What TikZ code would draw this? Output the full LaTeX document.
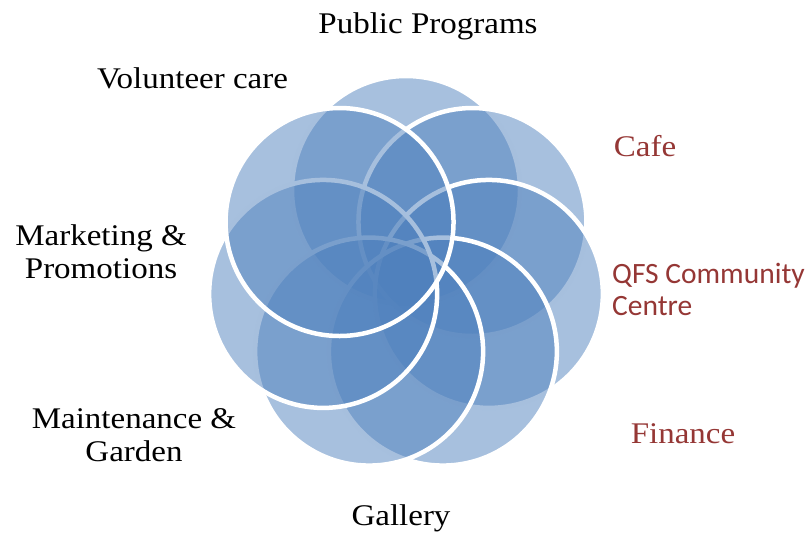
\documentclass[tikz,border=0pt]{standalone}
\usepackage{fontspec}
\setmainfont[FakeStretch=1.1]{Liberation Serif}
\newfontfamily\labelsans{Carlito}
\begin{document}
\begin{tikzpicture}[x=1pt,y=-1pt,
  ring/.style={fill=ringblue, fill opacity=0.5, draw=white, line width=4.5pt},
  lbl/.style={inner sep=0pt, anchor=base, font=\fontsize{30}{33}\selectfont},
  lblred/.style={lbl, text=labelred},
  lblsans/.style={inner sep=0pt, anchor=base west, align=left, text=labelred,
    font=\labelsans\fontsize{29.5}{33}\selectfont}]
\definecolor{ringblue}{HTML}{4F81BD}
\definecolor{labelred}{HTML}{953735}
\useasboundingbox (0,0) rectangle (808,536);

% seven rings evenly spaced round a common centre, drawn clockwise from the top
\coordinate (hub) at (406,275);
\foreach \k in {0,...,6}{
  \pgfmathsetmacro{\ang}{\k*360/7}
  \pgfmathsetmacro{\cx}{406+85*sin(\ang)}
  \pgfmathsetmacro{\cy}{275-85*cos(\ang)}
  \draw[ring] (\cx,\cy) circle[radius=114];
}

% labels
\node[lbl] (public) at (428,33.3) {Public Programs};
\node[lbl] (volunteer) at (192.5,88.3) {Volunteer care};
\node[lblred] (cafe) at (645,156.7) {Cafe};
\node[lbl] (marketing) at (101,245.7) {Marketing \&};
\node[lbl] (promotions) at (101,278.3) {Promotions};
\node[lblsans] (qfs) at (612,283) {QFS Community};
\node[lblsans] (centre) at (612,315.7) {Centre};
\node[lbl] (maintenance) at (134,428.3) {Maintenance \&};
\node[lbl] (garden) at (134,461.7) {Garden};
\node[lblred] (finance) at (683,443.3) {Finance};
\node[lbl] (gallery) at (401,525) {Gallery};
\end{tikzpicture}
\end{document}
